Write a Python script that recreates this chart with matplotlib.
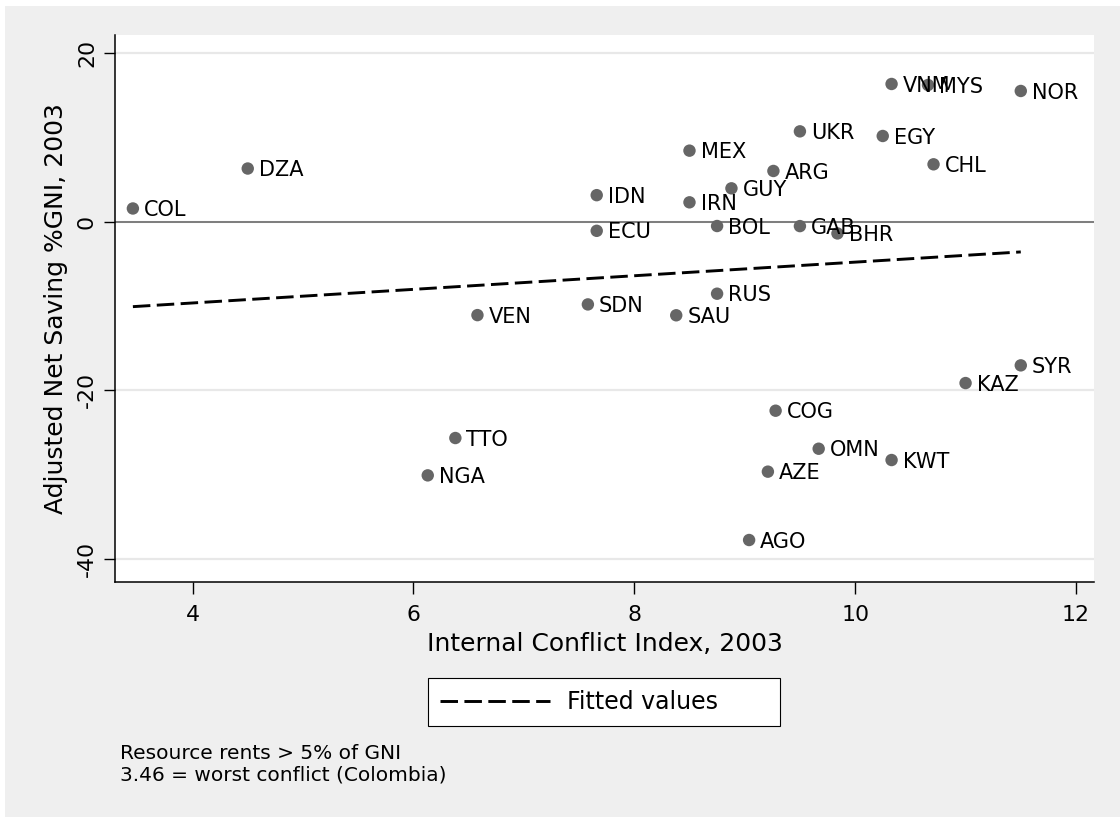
import numpy as np
import matplotlib
matplotlib.use("Agg")
import matplotlib.pyplot as plt
from matplotlib.patches import Rectangle

plt.rcParams['axes.unicode_minus'] = False

# resource-rich countries, 2003
codes = ['COL', 'DZA', 'NGA', 'TTO', 'VEN', 'SDN', 'IDN', 'ECU', 'SAU', 'MEX',
         'IRN', 'BOL', 'RUS', 'GUY', 'AGO', 'AZE', 'ARG', 'COG', 'UKR', 'GAB',
         'OMN', 'BHR', 'EGY', 'VNM', 'KWT', 'MYS', 'CHL', 'KAZ', 'NOR', 'SYR']
conflict = [3.46, 4.50, 6.13, 6.38, 6.58, 7.58, 7.66, 7.66, 8.38, 8.50,
            8.50, 8.75, 8.75, 8.88, 9.04, 9.21, 9.26, 9.28, 9.50, 9.50,
            9.67, 9.84, 10.25, 10.33, 10.33, 10.66, 10.71, 11.00, 11.50, 11.50]
saving = [1.58, 6.32, -30.08, -25.65, -11.07, -9.80, 3.16, -1.07, -11.09, 8.44,
          2.31, -0.50, -8.53, 3.97, -37.75, -29.64, 6.03, -22.41, 10.73, -0.51,
          -26.92, -1.38, 10.18, 16.35, -28.26, 16.23, 6.82, -19.13, 15.52, -17.03]

xticks = [4, 6, 8, 10, 12]
yticks = [-40, -20, 0, 20]

W, H = 1120, 817
fig = plt.figure(figsize=(W / 100, H / 100), dpi=100, facecolor='white')
fig.patches.append(Rectangle((5 / W, 0), 1, 1 - 6 / H, transform=fig.transFigure,
                             facecolor='#efefef', edgecolor='none', zorder=-10))

ax = fig.add_axes([115 / W, 1 - 582 / H, (1094 - 115) / W, (582 - 35) / H])
ax.set_facecolor('white')

ax.scatter(conflict, saving, s=80, color='#666666', edgecolors='none', zorder=2)
for c, x, y in zip(codes, conflict, saving):
    ax.annotate(c, (x, y), xytext=(8, -5.5), textcoords='offset points',
                ha='left', va='baseline', fontsize=15, color='black', zorder=3)

# linear fit
slope, intercept = np.polyfit(conflict, saving, 1)
xs = np.array([min(conflict), max(conflict)])
ax.plot(xs, slope * xs + intercept, color='black', lw=2.1, dashes=(6, 2.2),
        label='Fitted values', zorder=2.5)

ax.axhline(0, color='#5f5f5f', lw=1.1, zorder=1.5)

ax.set_xlim(3.298, 12.163)
ax.set_ylim(-42.73, 22.16)
ax.set_xticks(xticks)
ax.set_yticks(yticks)
ax.yaxis.grid(True, color='#e8e8e8', lw=1.6)
ax.set_axisbelow(True)

for side in ['top', 'right']:
    ax.spines[side].set_visible(False)
for side in ['left', 'bottom']:
    ax.spines[side].set_color('black')
    ax.spines[side].set_linewidth(1.1)

ax.tick_params(axis='x', length=8.6, width=1, pad=8, labelsize=15.8)
ax.tick_params(axis='y', length=8, width=1, pad=5, labelsize=15.8)
for lab in ax.get_yticklabels():
    lab.set_rotation(90)
    lab.set_va('center')

ax.set_xlabel('Internal Conflict Index, 2003', fontsize=18, labelpad=5)
ax.set_ylabel('Adjusted Net Saving %GNI, 2003', fontsize=18, labelpad=6.5)

leg = ax.legend(loc='lower left', bbox_to_anchor=(428 / W, 1 - 726 / H, 352 / W, 53 / H),
                bbox_transform=fig.transFigure, mode='expand', borderaxespad=0,
                fontsize=17, handlelength=4.66, handletextpad=0.72, borderpad=0.5,
                fancybox=False, framealpha=1, edgecolor='black')
leg.get_frame().set_linewidth(0.8)

fig.text(120 / W, 1 - 759 / H, 'Resource rents > 5% of GNI', fontsize=14.5, va='baseline')
fig.text(120 / W, 1 - 780.5 / H, '3.46 = worst conflict (Colombia)', fontsize=14.5, va='baseline')

fig.savefig('out.png', dpi=100, facecolor=fig.get_facecolor())
